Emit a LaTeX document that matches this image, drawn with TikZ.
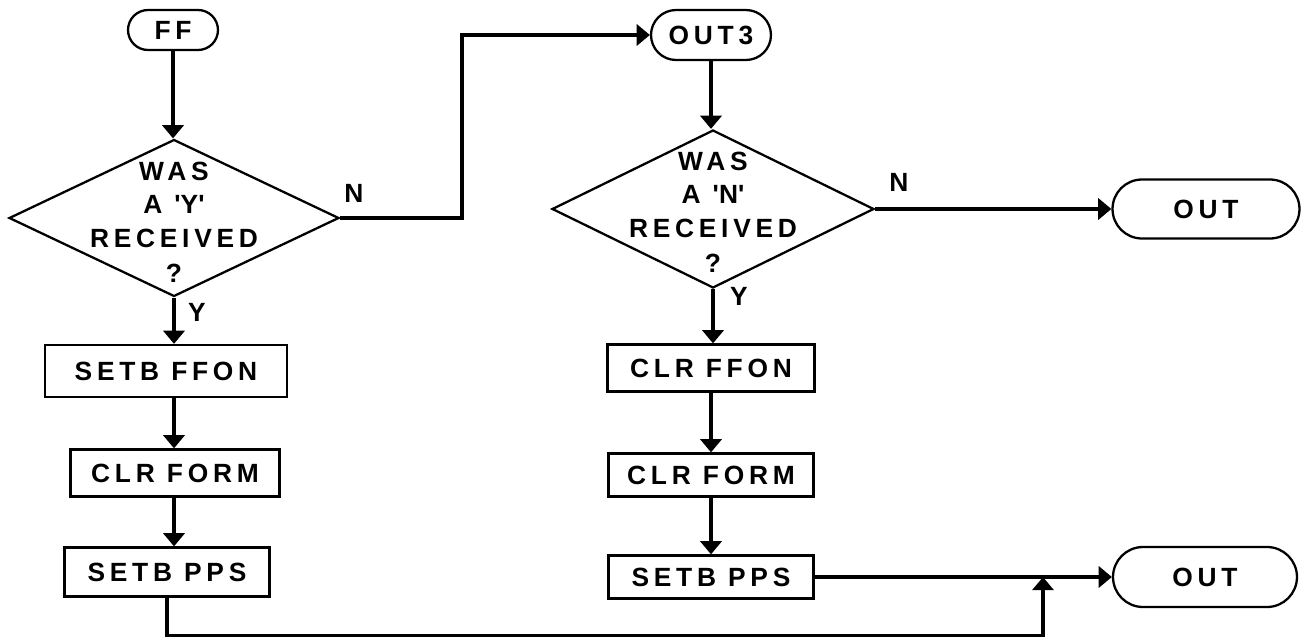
\documentclass[tikz,border=0pt]{standalone}
\usepackage{fontspec}
\newfontfamily\chartfont[LetterSpace=18]{Liberation Sans}
\usetikzlibrary{arrows.meta,shapes.geometric,positioning}

\begin{document}
\begin{tikzpicture}[x=0.02cm, y=-0.02cm,
    every node/.style={font=\chartfont\bfseries\fontsize{15}{19}\selectfont, inner sep=0pt},
    term/.style={draw, line width=1.3pt},
    proc/.style={draw, line width=1.3pt},
    dec/.style={draw, diamond, line width=1.3pt},
    qtext/.style={align=center},
    arr/.style={-{Triangle[length=7.5pt,width=12pt]}, line width=2pt},
    conn/.style={line width=2pt}]
\fill[white] (0,0) rectangle (1306,639);
\useasboundingbox (0,0) rectangle (1306,639);

% left branch
\node[term, minimum width=1.8cm, minimum height=0.8cm, rounded corners=0.4cm] (ff) at (173,30) {FF};
\node[dec, minimum width=6.6cm, minimum height=3.14cm] (dec1) at (174,218) {};
\node[qtext] (q1) at (174,222) {WAS\\A \textquotesingle Y\textquotesingle\\RECEIVED\\[1pt]?};
\node[proc, minimum width=4.84cm, minimum height=1.04cm] (setA) at (166,371) {SETB FFON};
\node[proc, minimum width=4.18cm, minimum height=0.94cm] (clrA) at (175,473) {CLR FORM};
\node[proc, minimum width=4.1cm, minimum height=0.98cm] (ppsA) at (167,572) {SETB PPS};
\node (n1) at (354,193) {N};
\node (y1) at (197,312) {Y};

% right branch
\node[term, minimum width=2.4cm, minimum height=1.0cm, rounded corners=0.5cm] (out3) at (711,35) {OUT3};
\node[dec, minimum width=6.44cm, minimum height=3.16cm] (dec2) at (713,209) {};
\node[qtext] (q2) at (713,212) {WAS\\A \textquotesingle N\textquotesingle\\RECEIVED\\[1pt]?};
\node[proc, minimum width=4.14cm, minimum height=0.94cm] (clrB) at (711,368) {CLR FFON};
\node[proc, minimum width=4.1cm, minimum height=0.86cm] (frmB) at (711,475) {CLR FORM};
\node[proc, minimum width=4.1cm, minimum height=0.86cm] (ppsB) at (711,577) {SETB PPS};
\node (n2) at (899,182) {N};
\node (y2) at (739,296) {Y};

% exits
\node[term, minimum width=3.74cm, minimum height=1.18cm, rounded corners=0.59cm] (outA) at (1206,209) {OUT};
\node[term, minimum width=3.68cm, minimum height=1.2cm, rounded corners=0.6cm] (outB) at (1205,577) {OUT};
\coordinate (join) at (1043,577);

% connectors
\draw[arr] (ff.south) -- (ff.south |- dec1.north);
\draw[arr] (dec1.east) -- ++(122,0) |- (out3.west);
\draw[arr] (dec1.south) -- (dec1.south |- setA.north);
\draw[arr] (dec1.south |- setA.south) -- (dec1.south |- clrA.north);
\draw[arr] (dec1.south |- clrA.south) -- (dec1.south |- ppsA.north);
\draw[arr] (out3.south) -- (out3.south |- dec2.north);
\draw[arr] (dec2.east) -- (outA.west);
\draw[arr] (dec2.south) -- (dec2.south |- clrB.north);
\draw[arr] (clrB.south) -- (frmB.north);
\draw[arr] (frmB.south) -- (ppsB.north);
\draw[arr] (ppsB.east) -- (outB.west);
\draw[arr] (ppsA.south) -- ++(0,38) -| (join);
\end{tikzpicture}
\end{document}
